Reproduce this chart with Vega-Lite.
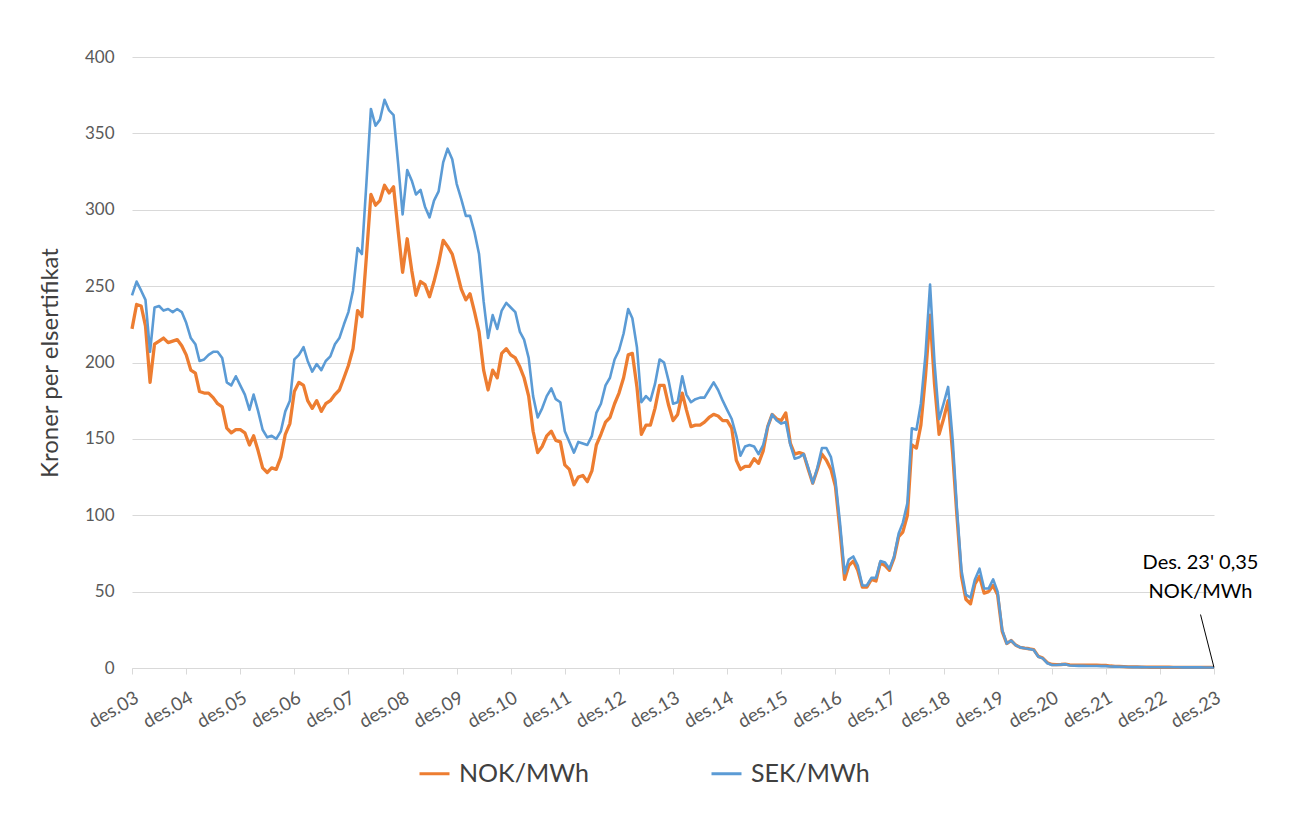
{
"$schema": "https://vega.github.io/schema/vega-lite/v6.json",
"width": 1082, "height": 611,
"autosize": {"type": "none"},
"padding": {"left": 132, "top": 57, "right": 90, "bottom": 153},
"background": "white",
"config": {"font": "Lato", "view": {"stroke": null}},
"datasets": {
"prices": [
{"d":"2003-12","NOK":222,"SEK":244},
{"d":"2004-01","NOK":238,"SEK":253},{"d":"2004-02","NOK":237,"SEK":247},{"d":"2004-03","NOK":224,"SEK":241},{"d":"2004-04","NOK":187,"SEK":207},{"d":"2004-05","NOK":212,"SEK":236},{"d":"2004-06","NOK":214,"SEK":237},{"d":"2004-07","NOK":216,"SEK":234},{"d":"2004-08","NOK":213,"SEK":235},{"d":"2004-09","NOK":214,"SEK":233},{"d":"2004-10","NOK":215,"SEK":235},{"d":"2004-11","NOK":211,"SEK":233},{"d":"2004-12","NOK":205,"SEK":226},
{"d":"2005-01","NOK":195,"SEK":216},{"d":"2005-02","NOK":193,"SEK":212},{"d":"2005-03","NOK":181,"SEK":201},{"d":"2005-04","NOK":180,"SEK":202},{"d":"2005-05","NOK":180,"SEK":205},{"d":"2005-06","NOK":177,"SEK":207},{"d":"2005-07","NOK":173,"SEK":207},{"d":"2005-08","NOK":171,"SEK":203},{"d":"2005-09","NOK":157,"SEK":187},{"d":"2005-10","NOK":154,"SEK":185},{"d":"2005-11","NOK":156,"SEK":191},{"d":"2005-12","NOK":156,"SEK":185},
{"d":"2006-01","NOK":154,"SEK":179},{"d":"2006-02","NOK":146,"SEK":169},{"d":"2006-03","NOK":152,"SEK":179},{"d":"2006-04","NOK":142,"SEK":168},{"d":"2006-05","NOK":131,"SEK":156},{"d":"2006-06","NOK":128,"SEK":151},{"d":"2006-07","NOK":131,"SEK":152},{"d":"2006-08","NOK":130,"SEK":150},{"d":"2006-09","NOK":138,"SEK":155},{"d":"2006-10","NOK":153,"SEK":168},{"d":"2006-11","NOK":160,"SEK":175},{"d":"2006-12","NOK":181,"SEK":202},
{"d":"2007-01","NOK":187,"SEK":205},{"d":"2007-02","NOK":185,"SEK":210},{"d":"2007-03","NOK":175,"SEK":201},{"d":"2007-04","NOK":170,"SEK":194},{"d":"2007-05","NOK":175,"SEK":199},{"d":"2007-06","NOK":168,"SEK":195},{"d":"2007-07","NOK":173,"SEK":201},{"d":"2007-08","NOK":175,"SEK":204},{"d":"2007-09","NOK":179,"SEK":212},{"d":"2007-10","NOK":182,"SEK":216},{"d":"2007-11","NOK":190,"SEK":225},{"d":"2007-12","NOK":198,"SEK":233},
{"d":"2008-01","NOK":209,"SEK":247},{"d":"2008-02","NOK":234,"SEK":275},{"d":"2008-03","NOK":230,"SEK":271},{"d":"2008-04","NOK":270,"SEK":318},{"d":"2008-05","NOK":310,"SEK":366},{"d":"2008-06","NOK":303,"SEK":355},{"d":"2008-07","NOK":306,"SEK":359},{"d":"2008-08","NOK":316,"SEK":372},{"d":"2008-09","NOK":311,"SEK":365},{"d":"2008-10","NOK":315,"SEK":362},{"d":"2008-11","NOK":286,"SEK":330},{"d":"2008-12","NOK":259,"SEK":297},
{"d":"2009-01","NOK":281,"SEK":326},{"d":"2009-02","NOK":260,"SEK":319},{"d":"2009-03","NOK":244,"SEK":310},{"d":"2009-04","NOK":253,"SEK":313},{"d":"2009-05","NOK":251,"SEK":302},{"d":"2009-06","NOK":243,"SEK":295},{"d":"2009-07","NOK":253,"SEK":306},{"d":"2009-08","NOK":265,"SEK":312},{"d":"2009-09","NOK":280,"SEK":331},{"d":"2009-10","NOK":276,"SEK":340},{"d":"2009-11","NOK":271,"SEK":333},{"d":"2009-12","NOK":260,"SEK":317},
{"d":"2010-01","NOK":248,"SEK":307},{"d":"2010-02","NOK":241,"SEK":296},{"d":"2010-03","NOK":245,"SEK":296},{"d":"2010-04","NOK":233,"SEK":285},{"d":"2010-05","NOK":220,"SEK":271},{"d":"2010-06","NOK":195,"SEK":240},{"d":"2010-07","NOK":182,"SEK":216},{"d":"2010-08","NOK":195,"SEK":231},{"d":"2010-09","NOK":190,"SEK":222},{"d":"2010-10","NOK":206,"SEK":234},{"d":"2010-11","NOK":209,"SEK":239},{"d":"2010-12","NOK":205,"SEK":236},
{"d":"2011-01","NOK":203,"SEK":233},{"d":"2011-02","NOK":197,"SEK":220},{"d":"2011-03","NOK":190,"SEK":215},{"d":"2011-04","NOK":178,"SEK":203},{"d":"2011-05","NOK":155,"SEK":178},{"d":"2011-06","NOK":141,"SEK":164},{"d":"2011-07","NOK":145,"SEK":170},{"d":"2011-08","NOK":152,"SEK":178},{"d":"2011-09","NOK":155,"SEK":183},{"d":"2011-10","NOK":149,"SEK":176},{"d":"2011-11","NOK":148,"SEK":174},{"d":"2011-12","NOK":133,"SEK":155},
{"d":"2012-01","NOK":130,"SEK":148},{"d":"2012-02","NOK":120,"SEK":141},{"d":"2012-03","NOK":125,"SEK":148},{"d":"2012-04","NOK":126,"SEK":147},{"d":"2012-05","NOK":122,"SEK":146},{"d":"2012-06","NOK":129,"SEK":152},{"d":"2012-07","NOK":146,"SEK":167},{"d":"2012-08","NOK":153,"SEK":173},{"d":"2012-09","NOK":161,"SEK":185},{"d":"2012-10","NOK":164,"SEK":190},{"d":"2012-11","NOK":173,"SEK":202},{"d":"2012-12","NOK":180,"SEK":208},
{"d":"2013-01","NOK":190,"SEK":219},{"d":"2013-02","NOK":205,"SEK":235},{"d":"2013-03","NOK":206,"SEK":229},{"d":"2013-04","NOK":184,"SEK":210},{"d":"2013-05","NOK":153,"SEK":174},{"d":"2013-06","NOK":159,"SEK":178},{"d":"2013-07","NOK":159,"SEK":175},{"d":"2013-08","NOK":170,"SEK":186},{"d":"2013-09","NOK":185,"SEK":202},{"d":"2013-10","NOK":185,"SEK":200},{"d":"2013-11","NOK":172,"SEK":188},{"d":"2013-12","NOK":162,"SEK":173},
{"d":"2014-01","NOK":166,"SEK":174},{"d":"2014-02","NOK":180,"SEK":191},{"d":"2014-03","NOK":169,"SEK":179},{"d":"2014-04","NOK":158,"SEK":174},{"d":"2014-05","NOK":159,"SEK":176},{"d":"2014-06","NOK":159,"SEK":177},{"d":"2014-07","NOK":161,"SEK":177},{"d":"2014-08","NOK":164,"SEK":182},{"d":"2014-09","NOK":166,"SEK":187},{"d":"2014-10","NOK":165,"SEK":182},{"d":"2014-11","NOK":162,"SEK":175},{"d":"2014-12","NOK":162,"SEK":169},
{"d":"2015-01","NOK":157,"SEK":163},{"d":"2015-02","NOK":136,"SEK":152},{"d":"2015-03","NOK":130,"SEK":139},{"d":"2015-04","NOK":132,"SEK":145},{"d":"2015-05","NOK":132,"SEK":146},{"d":"2015-06","NOK":137,"SEK":145},{"d":"2015-07","NOK":134,"SEK":140},{"d":"2015-08","NOK":142,"SEK":146},{"d":"2015-09","NOK":158,"SEK":158},{"d":"2015-10","NOK":166,"SEK":166},{"d":"2015-11","NOK":163,"SEK":162},{"d":"2015-12","NOK":162,"SEK":160},
{"d":"2016-01","NOK":167,"SEK":161},{"d":"2016-02","NOK":147,"SEK":146},{"d":"2016-03","NOK":140,"SEK":137},{"d":"2016-04","NOK":141,"SEK":138},{"d":"2016-05","NOK":140,"SEK":140},{"d":"2016-06","NOK":130,"SEK":131},{"d":"2016-07","NOK":121,"SEK":121},{"d":"2016-08","NOK":130,"SEK":131},{"d":"2016-09","NOK":140,"SEK":144},{"d":"2016-10","NOK":136,"SEK":144},{"d":"2016-11","NOK":130,"SEK":138},{"d":"2016-12","NOK":119,"SEK":123},
{"d":"2017-01","NOK":90,"SEK":95},{"d":"2017-02","NOK":58,"SEK":62},{"d":"2017-03","NOK":67,"SEK":71},{"d":"2017-04","NOK":70,"SEK":73},{"d":"2017-05","NOK":64,"SEK":67},{"d":"2017-06","NOK":53,"SEK":54},{"d":"2017-07","NOK":53,"SEK":54},{"d":"2017-08","NOK":58,"SEK":59},{"d":"2017-09","NOK":57,"SEK":59},{"d":"2017-10","NOK":69,"SEK":70},{"d":"2017-11","NOK":67,"SEK":69},{"d":"2017-12","NOK":64,"SEK":65},
{"d":"2018-01","NOK":72,"SEK":73},{"d":"2018-02","NOK":86,"SEK":88},{"d":"2018-03","NOK":89,"SEK":95},{"d":"2018-04","NOK":100,"SEK":108},{"d":"2018-05","NOK":146,"SEK":157},{"d":"2018-06","NOK":144,"SEK":156},{"d":"2018-07","NOK":159,"SEK":173},{"d":"2018-08","NOK":191,"SEK":205},{"d":"2018-09","NOK":231,"SEK":251},{"d":"2018-10","NOK":186,"SEK":200},{"d":"2018-11","NOK":153,"SEK":163},{"d":"2018-12","NOK":163,"SEK":173},
{"d":"2019-01","NOK":175,"SEK":184},{"d":"2019-02","NOK":140,"SEK":149},{"d":"2019-03","NOK":100,"SEK":105},{"d":"2019-04","NOK":60,"SEK":64},{"d":"2019-05","NOK":45,"SEK":48},{"d":"2019-06","NOK":42,"SEK":46},{"d":"2019-07","NOK":55,"SEK":58},{"d":"2019-08","NOK":60,"SEK":65},{"d":"2019-09","NOK":49,"SEK":52},{"d":"2019-10","NOK":50,"SEK":52},{"d":"2019-11","NOK":54,"SEK":58},{"d":"2019-12","NOK":48,"SEK":50},
{"d":"2020-01","NOK":24,"SEK":25},{"d":"2020-02","NOK":16,"SEK":16},{"d":"2020-03","NOK":18,"SEK":18},{"d":"2020-04","NOK":15,"SEK":15},{"d":"2020-05","NOK":13.5,"SEK":13.5},{"d":"2020-06","NOK":13,"SEK":12.9},{"d":"2020-07","NOK":12.6,"SEK":12.4},{"d":"2020-08","NOK":12,"SEK":11.8},{"d":"2020-09","NOK":7.6,"SEK":7.4},{"d":"2020-10","NOK":6.5,"SEK":6.3},{"d":"2020-11","NOK":3.5,"SEK":3.1},{"d":"2020-12","NOK":2.3,"SEK":2.0},
{"d":"2021-01","NOK":2.2,"SEK":2.0},{"d":"2021-02","NOK":2.3,"SEK":2.2},{"d":"2021-03","NOK":2.5,"SEK":2.4},{"d":"2021-04","NOK":2.0,"SEK":1.6},{"d":"2021-05","NOK":1.9,"SEK":1.5},{"d":"2021-06","NOK":1.8,"SEK":1.4},{"d":"2021-07","NOK":1.8,"SEK":1.4},{"d":"2021-08","NOK":1.8,"SEK":1.3},{"d":"2021-09","NOK":1.8,"SEK":1.3},{"d":"2021-10","NOK":1.8,"SEK":1.3},{"d":"2021-11","NOK":1.7,"SEK":1.2},{"d":"2021-12","NOK":1.7,"SEK":1.2},
{"d":"2022-01","NOK":1.3,"SEK":1.0},{"d":"2022-02","NOK":1.0,"SEK":0.9},{"d":"2022-03","NOK":1.0,"SEK":0.8},{"d":"2022-04","NOK":0.9,"SEK":0.8},{"d":"2022-05","NOK":0.8,"SEK":0.7},{"d":"2022-06","NOK":0.7,"SEK":0.6},{"d":"2022-07","NOK":0.7,"SEK":0.6},{"d":"2022-08","NOK":0.6,"SEK":0.6},{"d":"2022-09","NOK":0.6,"SEK":0.5},{"d":"2022-10","NOK":0.5,"SEK":0.5},{"d":"2022-11","NOK":0.5,"SEK":0.5},{"d":"2022-12","NOK":0.5,"SEK":0.5},
{"d":"2023-01","NOK":0.5,"SEK":0.5},{"d":"2023-02","NOK":0.5,"SEK":0.5},{"d":"2023-03","NOK":0.45,"SEK":0.45},{"d":"2023-04","NOK":0.45,"SEK":0.45},{"d":"2023-05","NOK":0.4,"SEK":0.4},{"d":"2023-06","NOK":0.4,"SEK":0.4},{"d":"2023-07","NOK":0.4,"SEK":0.4},{"d":"2023-08","NOK":0.4,"SEK":0.4},{"d":"2023-09","NOK":0.38,"SEK":0.38},{"d":"2023-10","NOK":0.37,"SEK":0.37},{"d":"2023-11","NOK":0.36,"SEK":0.36},{"d":"2023-12","NOK":0.35,"SEK":0.35}
],
"note": [{"d":"2023-09","v":69,"t":"Des. 23' 0,35"},{"d":"2023-09","v":50,"t":"NOK/MWh"}],
"pointer": [{"d1":"2023-09","v1":35,"d2":"2023-12","v2":0.35}]
},
"layer": [
{
"data": {"name": "prices"},
"mark": {"type": "line", "strokeWidth": 3.3, "strokeJoin": "round"},
"encoding": {
"x": {"field": "d", "type": "temporal", "scale": {"type": "utc", "nice": false},
"axis": {"title": null, "grid": false, "domain": true, "domainColor": "#d9d9d9", "domainWidth": 1.2, "ticks": true, "tickColor": "#d9d9d9", "tickSize": 6,
"values": [{"year":2003,"month":12,"date":1,"utc":true},{"year":2004,"month":12,"date":1,"utc":true},{"year":2005,"month":12,"date":1,"utc":true},{"year":2006,"month":12,"date":1,"utc":true},{"year":2007,"month":12,"date":1,"utc":true},{"year":2008,"month":12,"date":1,"utc":true},{"year":2009,"month":12,"date":1,"utc":true},{"year":2010,"month":12,"date":1,"utc":true},{"year":2011,"month":12,"date":1,"utc":true},{"year":2012,"month":12,"date":1,"utc":true},{"year":2013,"month":12,"date":1,"utc":true},{"year":2014,"month":12,"date":1,"utc":true},{"year":2015,"month":12,"date":1,"utc":true},{"year":2016,"month":12,"date":1,"utc":true},{"year":2017,"month":12,"date":1,"utc":true},{"year":2018,"month":12,"date":1,"utc":true},{"year":2019,"month":12,"date":1,"utc":true},{"year":2020,"month":12,"date":1,"utc":true},{"year":2021,"month":12,"date":1,"utc":true},{"year":2022,"month":12,"date":1,"utc":true},{"year":2023,"month":12,"date":1,"utc":true}],
"labelExpr": "'des.' + utcFormat(datum.value, '%y')",
"labelAngle": -30, "labelAlign": "right", "labelBaseline": "top", "labelPadding": 14,
"labelFontSize": 18.5, "labelColor": "#595959", "labelOverlap": false, "labelFlush": false}},
"y": {"field": "NOK", "type": "quantitative", "scale": {"domain": [0, 400], "nice": false},
"axis": {"title": "Kroner per elsertifikat", "titleFontSize": 24, "titleFontWeight": "normal", "titleColor": "#404040", "titlePadding": 22,
"values": [0,50,100,150,200,250,300,350,400], "grid": true, "gridColor": "#d9d9d9", "gridWidth": 1.2, "domain": false, "ticks": false,
"labelFontSize": 17, "labelColor": "#595959", "labelPadding": 18}},
"color": {"datum": "NOK/MWh", "type": "nominal",
"scale": {"domain": ["NOK/MWh", "SEK/MWh"], "range": ["#ED7D31", "#5B9BD5"]},
"legend": {"title": null, "orient": "none", "legendX": 286, "legendY": 700, "direction": "horizontal",
"symbolType": "stroke", "symbolStrokeWidth": 3, "symbolSize": 900, "labelFontSize": 25, "labelColor": "#404040", "labelOffset": 8, "columnPadding": 116}}
}
},
{
"data": {"name": "prices"},
"mark": {"type": "line", "strokeWidth": 2.6, "strokeJoin": "round"},
"encoding": {
"x": {"field": "d", "type": "temporal"},
"y": {"field": "SEK", "type": "quantitative", "axis": {"title": "Kroner per elsertifikat"}},
"color": {"datum": "SEK/MWh", "type": "nominal"}
}
},
{
"data": {"name": "pointer"},
"mark": {"type": "rule", "color": "#000000", "strokeWidth": 1},
"encoding": {
"x": {"field": "d1", "type": "temporal"},
"x2": {"field": "d2"},
"y": {"field": "v1", "type": "quantitative"},
"y2": {"field": "v2"}
}
},
{
"data": {"name": "note"},
"mark": {"type": "text", "fontSize": 20, "color": "#000000", "align": "center", "baseline": "middle"},
"encoding": {
"x": {"field": "d", "type": "temporal"},
"y": {"field": "v", "type": "quantitative"},
"text": {"field": "t"}
}
}
]
}
